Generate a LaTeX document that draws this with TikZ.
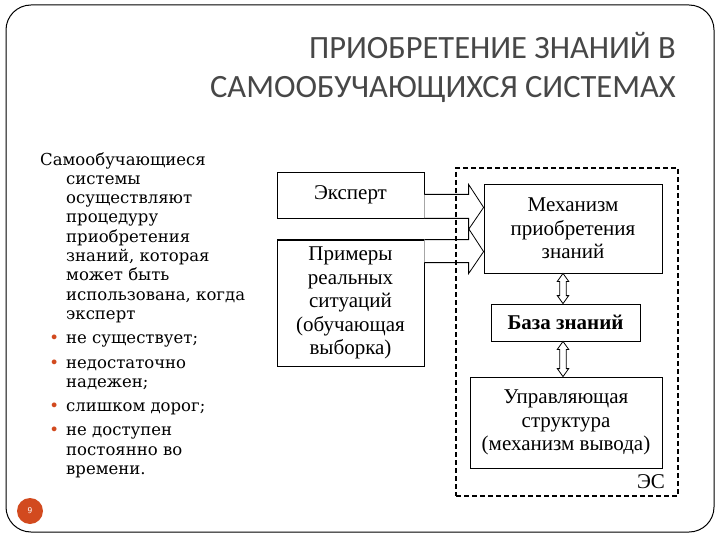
\documentclass[tikz,border=0pt]{standalone}
\usepackage{fontspec}
\setmainfont{Liberation Serif}
\newfontfamily\titlefont{Carlito}
\newfontfamily\leftfont{DejaVu Serif}
\usetikzlibrary{positioning,calc}
\definecolor{titlegray}{HTML}{474747}
\definecolor{slideorange}{HTML}{D24A1F}
\newcommand{\bul}{\makebox[0pt][r]{\textcolor{slideorange}{\textbullet}\hspace{7pt}}}

\tikzset{
  box/.style={draw, line width=0.8pt, fill=white, align=center, inner sep=0pt,
    font=\fontsize{21}{23.5}\selectfont},
  bigarrow/.style={draw, line width=0.8pt, fill=white},
}

\begin{document}
\begin{tikzpicture}[x=1pt,y=-1pt]
\useasboundingbox (0,0) rectangle (720,540);
\draw[line width=1pt, rounded corners=25pt] (6,5) rectangle (714,532);

% title
\node (title) [anchor=east, align=right, inner sep=0pt, text=titlegray,
  font=\titlefont\fontsize{32.5}{39}\selectfont] at (676,67.5)
  {ПРИОБРЕТЕНИЕ ЗНАНИЙ В\\САМООБУЧАЮЩИХСЯ СИСТЕМАХ};

% left text
\node (intro) [anchor=north west, align=left, inner sep=0pt,
  font=\leftfont\fontsize{16.5}{19.3}\selectfont] at (40,152)
  {Самообучающиеся\\
   \hspace*{26pt}системы\\
   \hspace*{26pt}осуществляют\\
   \hspace*{26pt}процедуру\\
   \hspace*{26pt}приобретения\\
   \hspace*{26pt}знаний, которая\\
   \hspace*{26pt}может быть\\
   \hspace*{26pt}использована, когда\\
   \hspace*{26pt}эксперт\\[5pt]
   \hspace*{26pt}\bul не существует;\\[5pt]
   \hspace*{26pt}\bul недостаточно\\
   \hspace*{26pt}надежен;\\[5pt]
   \hspace*{26pt}\bul слишком дорог;\\[5pt]
   \hspace*{26pt}\bul не доступен\\
   \hspace*{26pt}постоянно во\\
   \hspace*{26pt}времени.};

% boxes
\node (expert) [box, minimum width=147pt, minimum height=46pt] at (350.5,195) {Эксперт};
\node (examples) [box, minimum width=147pt, minimum height=126pt] at (350.5,303)
  {Примеры\\реальных\\ситуаций\\(обучающая\\выборка)};
\node (mech) [box, minimum width=178pt, minimum height=89pt] at (573,228.5)
  {Механизм\\приобретения\\знаний};
\node (kb) [box, minimum width=149pt, minimum height=37pt, font=\bfseries\fontsize{21}{23.5}\selectfont]
  at (565.5,322.5) {База знаний};
\node (ctrl) [box, minimum width=192pt, minimum height=91pt] at (566,422.5)
  {Управляющая\\структура\\(механизм вывода)};

% block arrows into the mechanism
\draw[bigarrow] let \p1=(expert.south east), \p2=(mech.west) in
  (\x1,\y1+24pt) -- (\x2-15pt,\y1+24pt) -- (\x2-15pt,\y1+34pt) -- (\x2,\y1+11pt)
  -- (\x2-15pt,\y1-11pt) -- (\x2-15pt,\y1) -- (\p1);
\draw[bigarrow] let \p1=(examples.north east), \p2=(mech.west) in
  (\p1) -- (\x2-15pt,\y1) -- (\x2-15pt,\y1+11pt) -- (\x2,\y1-12pt)
  -- (\x2-15pt,\y1-34pt) -- (\x2-15pt,\y1-23pt) -- (\x1,\y1-23pt);
\draw[line width=0.8pt] (expert.south east) -- (expert.south west);
\draw[line width=0.8pt] (examples.north east) -- (examples.north west);

% double arrows
\coordinate (axis) at (563,0);
\foreach \up/\dn in {mech/kb,kb/ctrl}
  \draw[bigarrow] let \p1=(axis|-\up.south), \p2=(axis|-\dn.north) in
    (\p1) -- (\x1+5.7pt,\y1-8pt) -- (\x1+3.2pt,\y1-8pt) -- (\x1+3.2pt,\y2+8pt)
    -- (\x1+5.7pt,\y2+8pt) -- (\p2) -- (\x1-5.7pt,\y2+8pt) -- (\x1-3.2pt,\y2+8pt)
    -- (\x1-3.2pt,\y1-8pt) -- (\x1-5.7pt,\y1-8pt) -- cycle;

% expert system frame
\node (es) [draw, line width=2.2pt, dash pattern=on 5pt off 3pt,
  minimum width=222pt, minimum height=328pt] at (567,332) {};
\node (eslabel) [anchor=south east, inner sep=0pt, font=\fontsize{21}{23.5}\selectfont]
  at ($(es.south east)+(-14pt,8pt)$) {ЭС};

% page number
\node (pagenum) [circle, fill=slideorange, minimum size=26pt, inner sep=0pt,
  text=white, font=\sffamily\fontsize{9}{9}\selectfont] at (30,511) {9};
\end{tikzpicture}
\end{document}
